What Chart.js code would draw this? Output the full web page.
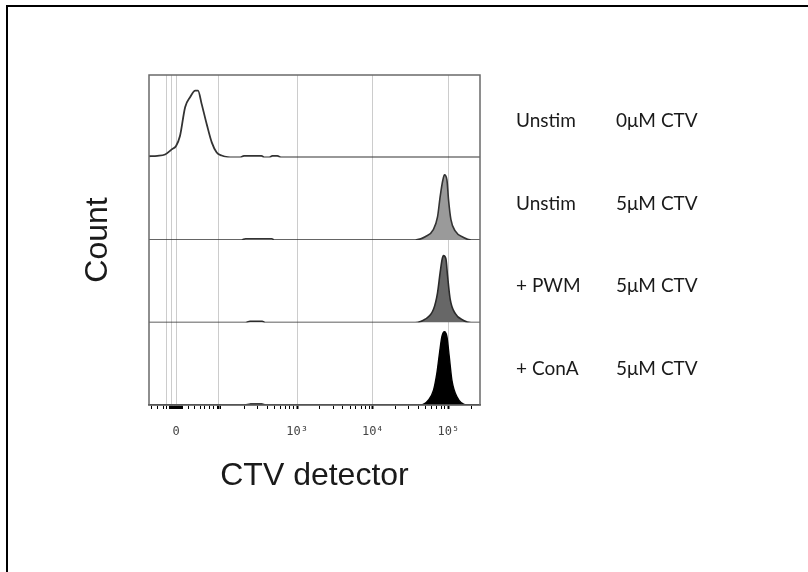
<!DOCTYPE html>
<html><head><meta charset="utf-8">
<script src="https://cdn.jsdelivr.net/npm/chart.js@4.4.1/dist/chart.umd.min.js"></script>
<style>
html,body{margin:0;padding:0;background:#fff;}
#wrap{position:relative;width:808px;height:572px;overflow:hidden;background:#fff;}
#frame{position:absolute;left:6px;top:5px;width:820px;height:600px;border-left:2px solid #000;border-top:2px solid #000;}
canvas{position:absolute;left:0;top:0;}
</style></head><body>
<div id="wrap"><div id="frame"></div><canvas id="c" width="808" height="572"></canvas></div>
<script>
// ---- data ----
const rowConditions = ['Unstim', 'Unstim', '+ PWM', '+ ConA'];
const rowDoses = ['0μM CTV', '5μM CTV', '5μM CTV', '5μM CTV'];

const unstim0X = [-46, -30, -17, -6.6, 0, 6, 14, 22, 31, 36, 43, 54, 66, 79, 94, 116, 170, 195, 335, 370, 420, 470, 545, 620, 262144];
const unstim0Count = [1.5, 2, 3.7, 9.8, 14, 26, 61, 73, 81, 81, 65, 40, 18, 6, 2.4, 0.5, 0, 2, 2, 0, 0, 2, 2, 0, 0];

const unstim5X = [-46, 180, 205, 460, 500, 36400, 49400, 63600, 71900, 78000, 84700, 88900, 95700, 100500, 108000, 123000, 158800, 200000, 262144];
const unstim5Count = [0, 0, 1.6, 1.6, 0, 0, 4, 13, 28, 53, 73, 79, 73, 49, 25, 11, 3, 0, 0];

const pwmX = [-46, 200, 236, 342, 380, 36400, 49400, 63600, 71900, 78000, 82900, 86300, 92900, 97500, 105800, 123000, 158800, 200000, 262144];
const pwmCount = [0, 0, 1.5, 1.5, 0, 0, 4, 16, 36, 61, 77, 81, 77, 57, 28, 11, 2.5, 0, 0];

const conaX = [-46, 200, 240, 340, 380, 42400, 54700, 63600, 70600, 76400, 82200, 88900, 95700, 102700, 111500, 129900, 176000, 262144];
const conaCount = [0, 0, 1.2, 1.2, 0, 0, 6, 18, 39, 63, 83, 89, 83, 59, 30, 10, 0, 0];

// ---- axis ----
const axisMin = -46;
const axisMax = 262144;
const labelTickValues = [0, 1000, 10000, 100000];
const labelTickTexts = ['0', '10³', '10⁴', '10⁵'];
const gridValues = [-14, -7.5, 0, 85, 1000, 10000, 100000];
const minorTickValues = [-40, -30, -20, -10, -9, -8, -7, -6, -5, -4, -3, -2, -1,
  1, 2, 3, 4, 5, 6, 7, 8, 9, 10, 20, 30, 40, 50, 60, 70, 80, 90,
  200, 300, 400, 500, 600, 700, 800, 900,
  2000, 3000, 4000, 5000, 6000, 7000, 8000, 9000,
  20000, 30000, 40000, 50000, 60000, 70000, 80000, 90000, 200000];

// ---- biexponential (asinh) scale ----
const COF = 50;
const tf = v => Math.asinh(v / COF);
const tfInv = t => COF * Math.sinh(t);
class BiexScale extends Chart.Scale {
  determineDataLimits() { this.min = this.options.min; this.max = this.options.max; }
  buildTicks() {
    const vals = Array.from(new Set([].concat(minorTickValues, gridValues, labelTickValues))).sort((a, b) => a - b);
    return vals.map(v => ({ value: v }));
  }
  configure() {
    super.configure();
    this._t0 = tf(this.min);
    this._tr = tf(this.max) - this._t0;
  }
  getPixelForValue(v) { return this.getPixelForDecimal((tf(v) - this._t0) / this._tr); }
  getValueForPixel(p) { return tfInv(this._t0 + this.getDecimalForPixel(p) * this._tr); }
  getLabelForValue(v) { return String(v); }
}
BiexScale.id = 'biex';
BiexScale.defaults = {};
Chart.register(BiexScale);

const pts = (xs, ys) => xs.map((x, i) => ({ x: x, y: ys[i] }));
const rowAxisIds = ['y3', 'y2', 'y1', 'y0']; // top to bottom
const rowAxis = () => ({ type: 'linear', axis: 'y', position: 'left', display: false, min: 0, max: 100, stack: 'rows', stackWeight: 1 });

const textPlugin = {
  id: 'texts',
  afterDatasetsDraw(chart) {
    const ctx = chart.ctx, ca = chart.chartArea;
    ctx.save();
    ctx.strokeStyle = '#6a6a6a';
    ctx.lineWidth = 1.5;
    ctx.strokeRect(ca.left, ca.top, ca.right - ca.left, ca.bottom - ca.top);
    ctx.restore();
  },
  afterDraw(chart) {
    const ctx = chart.ctx, ca = chart.chartArea;
    ctx.save();
    ctx.fillStyle = '#1a1a1a';
    ctx.font = '19px Lato';
    ctx.textAlign = 'left';
    ctx.textBaseline = 'alphabetic';
    rowAxisIds.forEach((id, i) => {
      const s = chart.scales[id];
      const yb = (s.top + s.bottom) / 2 + 11;
      ctx.fillText(rowConditions[i], ca.right + 36, yb);
      ctx.fillText(rowDoses[i], ca.right + 136, yb);
    });
    ctx.font = '32px "Liberation Sans"';
    ctx.textAlign = 'center';
    ctx.fillText('CTV detector', (ca.left + ca.right) / 2, 485);
    ctx.translate(107, (ca.top + ca.bottom) / 2);
    ctx.rotate(-Math.PI / 2);
    ctx.fillText('Count', 0, 0);
    ctx.restore();
  }
};

new Chart(document.getElementById('c'), {
  type: 'line',
  data: {
    datasets: [
      { data: pts(unstim0X, unstim0Count), yAxisID: 'y3', borderColor: '#333', borderWidth: 1.8, fill: false },
      { data: pts(unstim5X, unstim5Count), yAxisID: 'y2', borderColor: '#333', borderWidth: 1.6, backgroundColor: '#9a9a9a', fill: 'origin' },
      { data: pts(pwmX, pwmCount), yAxisID: 'y1', borderColor: '#2a2a2a', borderWidth: 1.6, backgroundColor: '#676767', fill: 'origin' },
      { data: pts(conaX, conaCount), yAxisID: 'y0', borderColor: '#000', borderWidth: 1.4, backgroundColor: '#000', fill: 'origin' }
    ]
  },
  options: {
    responsive: false,
    animation: false,
    devicePixelRatio: 1,
    layout: { padding: { left: 149, top: 75, right: 328, bottom: 127 } },
    elements: { point: { radius: 0 }, line: { cubicInterpolationMode: 'monotone' } },
    plugins: { legend: { display: false }, tooltip: { enabled: false } },
    scales: {
      x: {
        type: 'biex', min: axisMin, max: axisMax,
        afterFit: s => { s.height = 40; },
        border: { display: true, color: '#555', width: 1.5 },
        grid: {
          drawOnChartArea: true,
          color: c => gridValues.includes(c.tick.value) ? 'rgba(0,0,0,0.2)' : 'rgba(0,0,0,0)',
          lineWidth: 1,
          tickColor: '#000',
          tickWidth: c => labelTickValues.includes(c.tick.value) || c.tick.value === 85 ? 2 : 1,
          tickLength: 4
        },
        ticks: {
          autoSkip: false, maxRotation: 0, minRotation: 0, padding: 16,
          color: '#444', font: { family: '"DejaVu Sans Mono"', size: 12 },
          callback: v => { const i = labelTickValues.indexOf(v); return i >= 0 ? labelTickTexts[i] : ''; }
        }
      },
      y0: rowAxis(),
      y1: rowAxis(),
      y2: rowAxis(),
      y3: rowAxis()
    }
  },
  plugins: [textPlugin]
});
</script></body></html>
